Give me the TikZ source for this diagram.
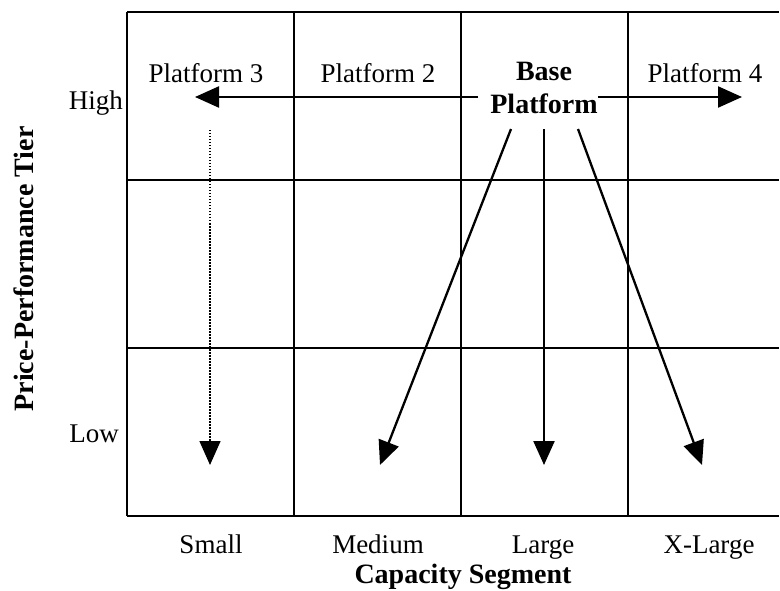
\documentclass[tikz,border=0pt]{standalone}
\usepackage{fontspec}
\setmainfont{Liberation Serif}
\usetikzlibrary{arrows.meta}
\begin{document}
\begin{tikzpicture}[x=1pt,y=-1pt,
  gridline/.style={line width=2.6pt},
  arr/.style={line width=2.3pt,-{Triangle[length=24pt,width=21pt]}},
  dotarr/.style={line width=1.5pt,dash pattern=on 1.5pt off 1.5pt,-{Triangle[length=24pt,width=21pt]}},
  lbl/.style={font=\fontsize{27}{31}\selectfont,inner sep=0pt},
  blbl/.style={font=\fontsize{28}{33}\selectfont\bfseries,inner sep=0pt}]
\useasboundingbox (0,0) rectangle (780,591);
% grid
\foreach \yy in {12,180,348,516} \draw[gridline] (127,\yy) -- (779,\yy);
\foreach \xx in {127,294,461,628} \draw[gridline] (\xx,12) -- (\xx,516);
% labels
\node[lbl,anchor=base] (p3) at (206,83) {Platform 3};
\node[lbl,anchor=base] (p2) at (378,83) {Platform 2};
\node[lbl,anchor=base] (p4) at (705,83) {Platform 4};
\node[blbl,align=center] (base) at (544,88) {Base\\Platform};
\node[lbl,anchor=base east] (high) at (123,110) {High};
\node[lbl,anchor=base east] (low) at (119,442) {Low};
\node[lbl,anchor=base] (small) at (211,553) {Small};
\node[lbl,anchor=base] (medium) at (378,553) {Medium};
\node[lbl,anchor=base] (large) at (543,553) {Large};
\node[lbl,anchor=base] (xlarge) at (709,553) {X-Large};
\node[blbl,anchor=base] (cap) at (463,583) {Capacity Segment};
\node[blbl,anchor=base,rotate=90] (tier) at (33,269) {Price-Performance Tier};
% arrow ends
\coordinate (t3) at (195,97);
\coordinate (t4) at (742,97);
\coordinate (ds) at (210,130);
\coordinate (dt) at (210,465);
\coordinate (tm) at (380,465);
\coordinate (tl) at (544,465);
\coordinate (tx) at (702,465);
% arrows
\draw[arr] ([xshift=-12pt]base.west |- t3) -- (t3);
\draw[arr] (base.east |- t4) -- (t4);
\draw[arr] ([xshift=-33pt,yshift=-15pt]base.south) -- (tm);
\draw[arr] ([yshift=-15pt]base.south) -- (tl);
\draw[arr] ([xshift=34pt,yshift=-15pt]base.south) -- (tx);
\draw[dotarr] (ds) -- (dt);
\end{tikzpicture}
\end{document}
